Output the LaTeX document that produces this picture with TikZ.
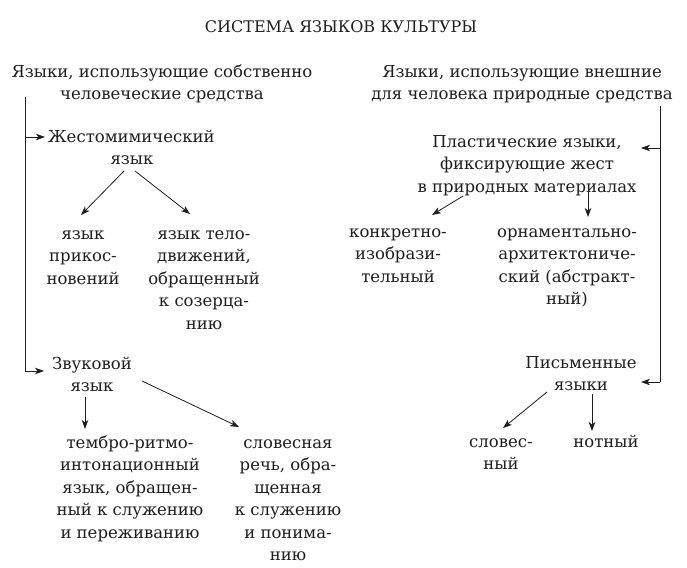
\documentclass[tikz,border=0pt]{standalone}
\usepackage{fontspec}
\setmainfont{DejaVu Serif}
\usetikzlibrary{arrows.meta}
\definecolor{ink}{HTML}{1E1E1E}
\tikzset{
  txt/.style={font=\fontsize{16.5}{22.5}\selectfont, align=center, anchor=base, inner sep=0pt, text=ink},
  ttl/.style={font=\fontsize{16}{20}\selectfont, anchor=base, inner sep=0pt, text=ink},
  arr/.style={draw=ink, line width=0.8pt, -{Stealth[length=9pt,width=6.5pt,inset=2.5pt]}},
  ln/.style={draw=ink, line width=0.8pt}
}
\begin{document}
\begin{tikzpicture}[x=1pt,y=-1pt]
\useasboundingbox (0,0) rectangle (687,567);
% title (anchor = baseline of the last line)
\node[ttl] (title) at (341,33) {СИСТЕМА ЯЗЫКОВ КУЛЬТУРЫ};
% headings
\node[txt] (lhead) at (162,99.5) {Языки, использующие собственно\\человеческие средства};
\node[txt] (rhead) at (522,99.5) {Языки, использующие внешние\\для человека природные средства};
% left branch
\node[txt, anchor=base west] (zhest) at (48,142) {Жестомимический};
\node[txt] (zhest2) at (132,164) {язык};
\node[txt] (prikos) at (83,284) {язык\\прикос-\\новений};
\node[txt] (telo) at (204,329) {язык тело-\\движений,\\обращенный\\к созерца-\\нию};
\node[txt] (zvuk) at (92,391.5) {Звуковой\\язык};
\node[txt] (tembr) at (130,538) {тембро-ритмо-\\интонационный\\язык, обращен-\\ный к служению\\и переживанию};
\node[txt] (slov) at (288,560.5) {словесная\\речь, обра-\\щенная\\к служению\\и понима-\\нию};
% right branch
\node[txt] (plast) at (527,192) {Пластические языки,\\фиксирующие жест\\в природных материалах};
\node[txt] (konkr) at (398,282) {конкретно-\\изобрази-\\тельный};
\node[txt] (ornam) at (567,304.5) {орнаментально-\\архитектониче-\\ский (абстракт-\\ный)};
\node[txt] (pism) at (581,390.5) {Письменные\\языки};
\node[txt] (slovs) at (501,469.5) {словес-\\ный};
\node[txt] (notn) at (606,447) {нотный};
% connector points
\coordinate (ltop) at (25,97);
\coordinate (lin1) at (45,137);
\coordinate (lin2) at (44,371);
\coordinate (rtop) at (660,106);
\coordinate (rin1) at (641,148);
\coordinate (rin2) at (641,382);
\coordinate (zA) at (124,171);
\coordinate (zB) at (81,215);
\coordinate (zC) at (135,171);
\coordinate (zD) at (190,214);
\coordinate (vA) at (85,397);
\coordinate (vB) at (85,429);
\coordinate (vC) at (142,381);
\coordinate (vD) at (239,427);
\coordinate (pA) at (463,196);
\coordinate (pB) at (432,215);
\coordinate (pC) at (588,191);
\coordinate (pD) at (588,217);
\coordinate (wA) at (547,392);
\coordinate (wB) at (503,428);
\coordinate (wC) at (592,394);
\coordinate (wD) at (592,431);
% connectors
\draw[ln] (ltop) -- (lin2 -| ltop);
\draw[arr] (ltop |- lin1) -- (lin1);
\draw[arr] (lin2 -| ltop) -- (lin2);
\draw[ln] (rtop) -- (rin2 -| rtop);
\draw[arr] (rtop |- rin1) -- (rin1);
\draw[arr] (rin2 -| rtop) -- (rin2);
\draw[arr] (zA) -- (zB);
\draw[arr] (zC) -- (zD);
\draw[arr] (vA) -- (vB);
\draw[arr] (vC) -- (vD);
\draw[arr] (pA) -- (pB);
\draw[arr] (pC) -- (pD);
\draw[arr] (wA) -- (wB);
\draw[arr] (wC) -- (wD);
\end{tikzpicture}
\end{document}
